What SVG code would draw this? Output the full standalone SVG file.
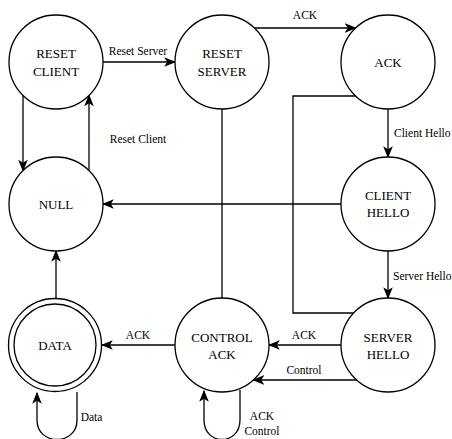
<svg xmlns="http://www.w3.org/2000/svg" width="452" height="439" viewBox="0 0 452 439">
  <defs>
    <!-- classic notched arrowhead -->
    <marker id="arrow" markerUnits="userSpaceOnUse" markerWidth="12" markerHeight="12" viewBox="0 0 10 8" refX="9" refY="4" orient="auto">
      <path d="M0,0 L10,4 L0,8 L2.5,4 Z" fill="#000"/>
    </marker>
    <style>
      .node circle { fill: #fff; stroke: #000; stroke-width: 1.3; }
      .node text { font-family: "Liberation Serif", "Times New Roman", serif; font-size: 13px; fill: #000; text-anchor: middle; }
      .edge { fill: none; stroke: #000; stroke-width: 1.3; }
      .arr { marker-end: url(#arrow); }
      .lbl { font-family: "Liberation Serif", "Times New Roman", serif; font-size: 11.5px; fill: #000; }
      .mid { text-anchor: middle; }
    </style>
  </defs>
  <rect width="452" height="439" fill="#fff"/>

  <!-- transitions -->
  <g id="connectors">
    <path class="edge arr" d="M103,62 H175"/>
    <path class="edge arr" d="M254.5,28 H355.5"/>
    <path class="edge arr" d="M23,95.5 V170.5"/>
    <path class="edge arr" d="M89,170.5 V95.5"/>
    <path class="edge arr" d="M388,109 V157"/>
    <path class="edge arr" d="M341,204 H103"/>
    <path class="edge" d="M355.5,96 H293 V313 H354"/>
    <path class="edge" d="M222,109 V298"/>
    <path class="edge arr" d="M388,251 V298"/>
    <path class="edge arr" d="M341,345 H269"/>
    <path class="edge arr" d="M356.5,380 H253.5"/>
    <path class="edge arr" d="M175,345 H102"/>
    <path class="edge arr" d="M56,298 V251"/>
    <!-- self loops -->
    <path class="edge arr" d="M77,392 V420 C77,446 37,446 37,420 V393"/>
    <path class="edge arr" d="M240,390 V420 C240,446 204,446 204,420 V391"/>

    <text class="lbl mid" x="138" y="55">Reset Server</text>
    <text class="lbl mid" x="305" y="19">ACK</text>
    <text class="lbl mid" x="138" y="143">Reset Client</text>
    <text class="lbl" x="394" y="137">Client Hello</text>
    <text class="lbl" x="393" y="280">Server Hello</text>
    <text class="lbl mid" x="304" y="339">ACK</text>
    <text class="lbl mid" x="304" y="374">Control</text>
    <text class="lbl mid" x="138" y="339">ACK</text>
    <text class="lbl mid" x="91.5" y="421">Data</text>
    <text class="lbl mid" x="262" y="420">ACK</text>
    <text class="lbl mid" x="262" y="435">Control</text>
  </g>

  <!-- states -->
  <g id="reset-client" class="node">
    <circle cx="56" cy="62" r="47"/>
    <text x="56" y="58">RESET</text>
    <text x="56" y="75.5">CLIENT</text>
  </g>
  <g id="reset-server" class="node">
    <circle cx="222" cy="62" r="47"/>
    <text x="222" y="58">RESET</text>
    <text x="222" y="75.5">SERVER</text>
  </g>
  <g id="ack" class="node">
    <circle cx="388" cy="62" r="47"/>
    <text x="388" y="67">ACK</text>
  </g>
  <g id="null" class="node">
    <circle cx="56" cy="204" r="47"/>
    <text x="56" y="209">NULL</text>
  </g>
  <g id="client-hello" class="node">
    <circle cx="388" cy="204" r="47"/>
    <text x="388" y="200">CLIENT</text>
    <text x="388" y="217">HELLO</text>
  </g>
  <g id="data" class="node">
    <circle cx="55" cy="345" r="46.5"/>
    <circle cx="55" cy="345" r="41"/>
    <text x="55" y="350">DATA</text>
  </g>
  <g id="control-ack" class="node">
    <circle cx="222" cy="345" r="47"/>
    <text x="222" y="342">CONTROL</text>
    <text x="222" y="359">ACK</text>
  </g>
  <g id="server-hello" class="node">
    <circle cx="388" cy="345" r="47"/>
    <text x="388" y="342">SERVER</text>
    <text x="388" y="359">HELLO</text>
  </g>
</svg>
